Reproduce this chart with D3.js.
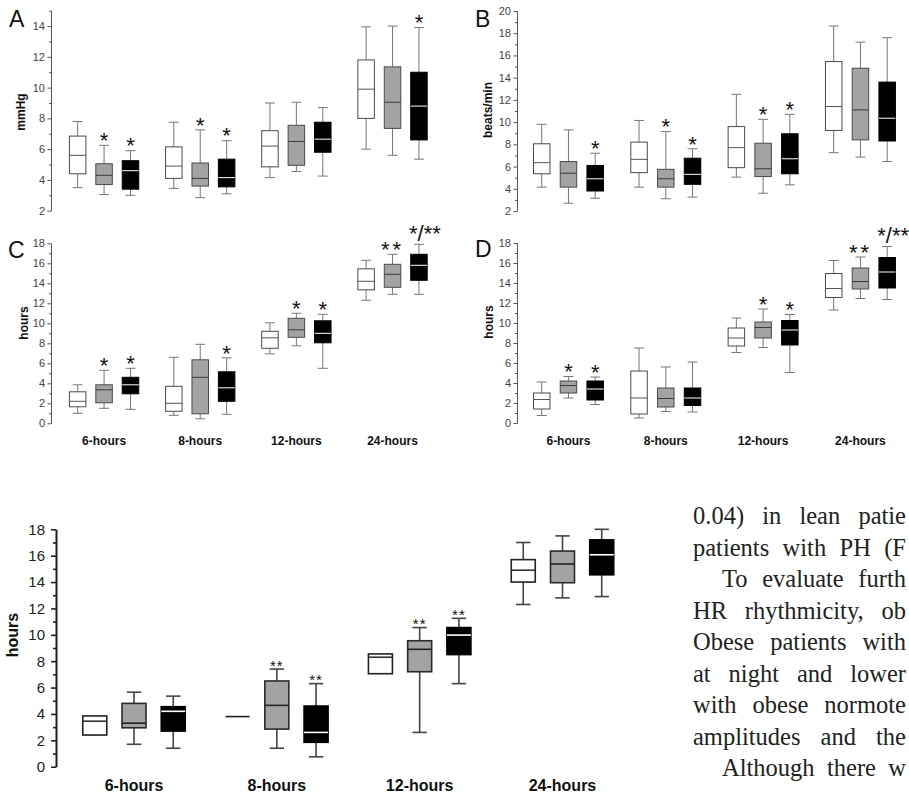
<!DOCTYPE html>
<html>
<head>
<meta charset="utf-8">
<script src="https://cdn.jsdelivr.net/npm/d3@7"></script>
<style>
  body { margin: 0; background: #fff; }
  svg { display: block; font-family: "Liberation Sans", Arial, sans-serif; }
</style>
</head>
<body>
<svg width="909" height="794"></svg>
<script>
// x categories and the three series shown in every group
const groups = ["6-hours", "8-hours", "12-hours", "24-hours"];
const series = ["Group 1", "Group 2", "Group 3"];

// each box is [min, q1, median, q3, max], listed group by group
const boxesA = [
  [3.5, 4.4, 5.6, 6.85, 7.8], [3.05, 3.7, 4.3, 5.05, 6.25], [3.0, 3.4, 4.6, 5.25, 5.9],
  [3.45, 4.1, 4.9, 6.15, 7.75], [2.85, 3.6, 4.1, 5.1, 7.25], [3.1, 3.55, 4.15, 5.35, 6.55],
  [4.15, 4.85, 6.2, 7.2, 9.0], [4.55, 4.95, 6.5, 7.55, 9.05], [4.25, 5.8, 6.65, 7.75, 8.7],
  [6.0, 8.0, 9.9, 11.8, 13.95], [5.6, 7.35, 9.05, 11.35, 14.0], [5.35, 6.6, 8.8, 11.0, 13.9]
];
const starsA = ["", "*", "*", "", "*", "*", "", "", "", "", "", "*"];

const boxesB = [
  [4.15, 5.35, 6.35, 8.05, 9.8], [2.7, 4.15, 5.4, 6.45, 9.3], [3.15, 3.8, 4.9, 6.1, 7.2],
  [4.15, 5.45, 6.65, 8.2, 10.15], [3.1, 4.15, 4.9, 5.75, 9.15], [3.25, 4.4, 5.3, 6.75, 7.6],
  [5.05, 5.9, 7.7, 9.6, 12.5], [3.6, 5.1, 5.8, 8.1, 10.25], [4.35, 5.35, 6.7, 8.95, 10.7],
  [7.25, 9.25, 11.4, 15.45, 18.65], [6.85, 8.4, 11.1, 14.85, 17.2], [6.45, 8.3, 10.35, 13.6, 17.6]
];
const starsB = ["", "", "*", "", "*", "*", "", "*", "*", "", "", ""];

const boxesC = [
  [1.0, 1.65, 2.2, 3.15, 3.85], [1.5, 2.05, 3.35, 3.85, 5.3], [1.4, 2.95, 3.85, 4.6, 5.5],
  [0.8, 1.2, 2.0, 3.7, 6.6], [0.45, 0.95, 4.6, 6.35, 7.9], [0.9, 2.2, 3.55, 5.15, 6.55],
  [6.95, 7.5, 8.55, 9.2, 10.05], [7.75, 8.6, 9.35, 10.5, 11.0], [5.5, 8.05, 9.0, 10.25, 10.9],
  [12.3, 13.35, 14.2, 15.45, 16.3], [12.9, 13.6, 14.9, 15.9, 16.9], [12.9, 14.3, 15.8, 16.9, 17.9]
];
const starsC = ["", "*", "*", "", "", "*", "", "*", "*", "", "**", "*/**"];

const boxesD = [
  [0.75, 1.4, 2.35, 3.0, 4.1], [2.5, 3.0, 3.75, 4.2, 4.65], [1.85, 2.3, 3.4, 4.2, 4.6],
  [0.5, 0.9, 2.5, 5.2, 7.5], [1.15, 1.6, 2.45, 3.5, 5.6], [1.1, 1.75, 2.5, 3.5, 6.1],
  [7.05, 7.7, 8.5, 9.5, 10.5], [7.55, 8.5, 9.55, 10.1, 11.4], [5.05, 7.8, 9.3, 10.25, 10.85],
  [11.3, 12.55, 13.45, 14.95, 16.25], [12.45, 13.4, 14.15, 15.5, 16.6], [12.35, 13.5, 15.1, 16.55, 17.65]
];
const starsD = ["", "*", "*", "", "", "", "", "*", "*", "", "**", "*/**"];

const boxesE = [
  [2.4, 2.4, 3.45, 3.85, 3.85], [1.7, 2.95, 3.3, 4.8, 5.65], [1.4, 2.7, 4.2, 4.55, 5.35],
  [3.8, 3.8, 3.8, 3.8, 3.8], [1.4, 2.85, 4.65, 6.5, 7.4], [0.75, 1.85, 2.6, 4.6, 6.3],
  [7.05, 7.05, 8.3, 8.55, 8.55], [2.6, 7.2, 8.9, 9.55, 10.55], [6.3, 8.5, 9.98, 10.55, 11.25],
  [12.3, 14.0, 14.9, 15.7, 17.0], [12.8, 13.95, 15.37, 16.35, 17.5], [12.9, 14.55, 16.07, 17.2, 18.0]
];
const starsE = ["", "", "", "", "**", "**", "", "**", "**", "", "", ""];

// body text beside the lower chart, as much of each line as the page shows
const textLines = [
  "0.04) in lean patie", "patients with PH (F", "To evaluate furth",
  "HR rhythmicity, ob", "Obese patients with", "at night and lower",
  "with obese normote", "amplitudes and the", "Although there w"
];
const paragraphStarts = [2, 8];

const svg = d3.select("svg");
svg.append("rect").attr("width", 909).attr("height", 794).attr("fill", "#fff");

const fills = ["#ffffff", "#a3a3a3", "#000000"];

const small = {
  boxW: 16.5, tickFont: 11, unitFont: 12, xFont: 12, starFont: 22, starGap: 10,
  lineW: 1, stroke: ["#4a4a4a", "#4a4a4a", "#000"], whisker: "#777",
  median: ["#555", "#3a3a3a", "#fff"], axis: "#555", tickText: "#444",
  majorTick: 3.5, minorTick: 2, tickPad: 2.5, spacing: 3
};
const big = {
  boxW: 24, tickFont: 15, unitFont: 16, xFont: 16, starFont: 15, starGap: 7,
  lineW: 1.6, stroke: ["#222", "#2a2a2a", "#000"], whisker: "#444",
  median: ["#333", "#222", "#fff"], axis: "#222", tickText: "#222",
  majorTick: 5, minorTick: 3, tickPad: 6, spacing: 1
};

function drawPanel(p, s) {
  const y = d3.scaleLinear().domain(p.domain).range(p.yRange);
  const x0 = d3.scaleBand().domain(groups).range(p.xRange);
  const x1 = d3.scalePoint().domain(series).range([0, x0.bandwidth()]).padding(0.82);
  const g = svg.append("g");

  const major = d3.range(p.domain[0], p.domain[1] + 0.01, 2);
  const minor = d3.range(p.domain[0] + 1, p.domain[1] + 0.01, 2);

  const minorAxis = g.append("g")
    .attr("transform", `translate(${p.axisX},0)`)
    .call(d3.axisLeft(y).tickValues(minor).tickSize(s.minorTick).tickSizeOuter(0).tickFormat(""));
  const majorAxis = g.append("g")
    .attr("transform", `translate(${p.axisX},0)`)
    .call(d3.axisLeft(y).tickValues(major).tickSize(s.majorTick).tickSizeOuter(0).tickPadding(s.tickPad));
  [minorAxis, majorAxis].forEach((a) => {
    a.selectAll("path,line").attr("stroke", s.axis).attr("stroke-width", s.lineW);
    a.selectAll("text")
      .attr("font-size", s.tickFont)
      .attr("font-family", "Liberation Sans, Arial, sans-serif")
      .attr("fill", s.tickText);
  });

  const rows = p.data.map((d, i) => ({
    group: groups[Math.floor(i / 3)],
    series: series[i % 3],
    k: i % 3,
    min: d[0], q1: d[1], med: d[2], q3: d[3], max: d[4],
    star: p.stars[i]
  }));
  const cx = (d) => x0(d.group) + x1(d.series);
  const capW = s.boxW * 0.6;

  const box = g.selectAll(".box").data(rows).join("g").attr("class", "box");
  box.append("line")
    .attr("x1", cx).attr("x2", cx)
    .attr("y1", (d) => y(d.min)).attr("y2", (d) => y(d.max))
    .attr("stroke", s.whisker).attr("stroke-width", s.lineW);
  ["min", "max"].forEach((key) => {
    box.filter((d) => d[key] !== d.q1 && d[key] !== d.q3)
      .append("line")
      .attr("x1", (d) => cx(d) - capW / 2).attr("x2", (d) => cx(d) + capW / 2)
      .attr("y1", (d) => y(d[key])).attr("y2", (d) => y(d[key]))
      .attr("stroke", s.whisker).attr("stroke-width", s.lineW);
  });
  box.append("rect")
    .attr("x", (d) => cx(d) - s.boxW / 2)
    .attr("width", s.boxW)
    .attr("y", (d) => y(d.q3))
    .attr("height", (d) => Math.max(0, y(d.q1) - y(d.q3)))
    .attr("fill", (d) => fills[d.k])
    .attr("stroke", (d) => s.stroke[d.k])
    .attr("stroke-width", s.lineW);
  box.append("line")
    .attr("x1", (d) => cx(d) - s.boxW / 2).attr("x2", (d) => cx(d) + s.boxW / 2)
    .attr("y1", (d) => y(d.med)).attr("y2", (d) => y(d.med))
    .attr("stroke", (d) => (d.q1 === d.q3 ? s.stroke[d.k] : s.median[d.k]))
    .attr("stroke-width", s.lineW);

  // significance marks above the upper whisker
  const split = (d) => d.star.includes("/");
  box.filter((d) => d.star)
    .append("text")
    .attr("x", (d) => cx(d) + (split(d) ? 6 : 0))
    .attr("y", (d) => y(d.max) - s.starGap * (split(d) ? 1.6 : 1) + s.starFont * 0.58)
    .attr("text-anchor", "middle")
    .attr("font-size", s.starFont)
    .attr("letter-spacing", (d) => (d.star.length > 1 && !split(d) ? s.spacing : 0))
    .attr("fill", "#111")
    .text((d) => d.star);

  if (p.xLabelY) {
    g.append("g").selectAll("text").data(groups).join("text")
      .attr("x", (d) => x0(d) + x1(series[1]))
      .attr("y", p.xLabelY)
      .attr("text-anchor", "middle")
      .attr("font-weight", "bold")
      .attr("font-size", s.xFont)
      .attr("fill", "#111")
      .text((d) => d);
  }

  g.append("text")
    .attr("transform", `translate(${p.unitX},${p.unitY}) rotate(-90)`)
    .attr("text-anchor", "middle")
    .attr("font-weight", "bold")
    .attr("font-size", s.unitFont)
    .attr("fill", "#111")
    .text(p.unit);

  if (p.letter) {
    g.append("text")
      .attr("x", p.letterX).attr("y", p.letterY)
      .attr("font-size", 23)
      .attr("fill", "#111")
      .text(p.letter);
  }
}

drawPanel({ data: boxesA, stars: starsA, domain: [2, 15], yRange: [210.7, 10.7],
  xRange: [56, 440.6], axisX: 51, unit: "mmHg", unitX: 25, unitY: 112,
  letter: "A", letterX: 9, letterY: 27 }, small);
drawPanel({ data: boxesB, stars: starsB, domain: [2, 20], yRange: [211, 11],
  xRange: [519.8, 909.1], axisX: 517, unit: "beats/min", unitX: 492, unitY: 110,
  letter: "B", letterX: 475, letterY: 27 }, small);
drawPanel({ data: boxesC, stars: starsC, domain: [0, 18], yRange: [423.3, 243.3],
  xRange: [56, 440.6], axisX: 51, unit: "hours", unitX: 28, unitY: 323,
  letter: "C", letterX: 8, letterY: 258, xLabelY: 445 }, small);
drawPanel({ data: boxesD, stars: starsD, domain: [0, 18], yRange: [423, 243],
  xRange: [519.8, 909.1], axisX: 517, unit: "hours", unitX: 493, unitY: 322,
  letter: "D", letterX: 475, letterY: 257, xLabelY: 445 }, small);
drawPanel({ data: boxesE, stars: starsE, domain: [0, 18], yRange: [766.7, 529.3],
  xRange: [62.6, 633.9], axisX: 56, unit: "hours", unitX: 18, unitY: 635,
  xLabelY: 791 }, big);

// article text to the right of the lower chart, spread out to the page edge
const rightEdge = 906;
svg.append("g")
  .attr("font-family", "Liberation Serif, Times New Roman, serif")
  .attr("font-size", 24.5)
  .attr("fill", "#222")
  .selectAll("text")
  .data(textLines)
  .join("text")
  .attr("x", (d, i) => (paragraphStarts.includes(i) ? 722 : 693))
  .attr("y", (d, i) => 524 + i * 31.5)
  .text((d) => d)
  .each(function (d, i) {
    const x = paragraphStarts.includes(i) ? 722 : 693;
    const gaps = d.split(" ").length - 1;
    const extra = (rightEdge - x - this.getComputedTextLength()) / gaps;
    d3.select(this).attr("word-spacing", Math.max(0, extra));
  });
</script>
</body>
</html>
